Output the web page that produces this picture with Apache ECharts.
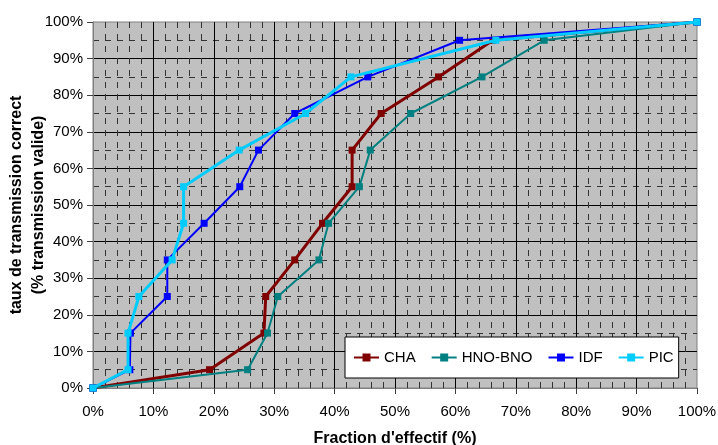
<!DOCTYPE html>
<html>
<head>
<meta charset="utf-8">
<script src="https://cdn.jsdelivr.net/npm/echarts@6/dist/echarts.min.js"></script>
<style>
html,body{margin:0;padding:0;background:#fff;}
#chart{width:718px;height:445px;}
</style>
</head>
<body>
<div id="chart"></div>
<script>
// transmission levels (y, %)
const yLevels = [0, 5, 15, 25, 35, 45, 55, 65, 75, 85, 95, 100];
// fraction d'effectif (x, %) per series
const chaX = [0, 19.3, 28.3, 28.6, 33.4, 38.0, 42.9, 42.9, 47.7, 57.2, 66.2, 100];
const hnoX = [0, 25.6, 28.9, 30.6, 37.4, 39.0, 44.1, 45.9, 52.6, 64.4, 74.7, 100];
const idfX = [0, 6.1, 6.2, 12.3, 12.3, 18.4, 24.3, 27.4, 33.4, 45.5, 60.7, 100];
const picX = [0, 5.8, 5.8, 7.6, 13.1, 15.0, 15.0, 24.2, 35.2, 42.7, 66.7, 100];
const seriesNames = ['CHA', 'HNO-BNO', 'IDF', 'PIC'];
const xTitle = "Fraction d'effectif (%)";
const yTitle = "taux de transmission correct\n(% transmission valide)";

const FONT = "'Liberation Sans', Arial, sans-serif";
function pairs(xs){ return xs.map((x,i)=>[x, yLevels[i]]); }

const colors = ['#800000', '#008080', '#0000FF', '#00CCFF'];
const widths = [3, 2, 2, 3];
const dataSets = [chaX, hnoX, idfX, picX];

const chart = echarts.init(document.getElementById('chart'), null, {renderer:'canvas'});

const axisCommon = {
  type: 'value', min: 0, max: 100, interval: 10,
  axisLine: {show: true, lineStyle: {color: '#808080', width: 1}},
  axisTick: {show: true, inside: false, length: 6, lineStyle: {color: '#404040'}},
  axisLabel: {formatter: '{value}%', color: '#000', fontFamily: FONT, fontSize: 15},
  splitLine: {show: true, showMinLine: false, showMaxLine: false, lineStyle: {color: '#000', width: 1}},
  nameTextStyle: {color: '#000', fontFamily: FONT, fontWeight: 'bold'}
};

chart.setOption({
  animation: false,
  textStyle: {fontFamily: FONT},
  grid: {
    left: 93, top: 22, right: 21, bottom: 57,
    show: true, backgroundColor: '#C0C0C0', borderColor: '#808080', borderWidth: 1,
    containLabel: false, outerBoundsMode: 'none'
  },
  xAxis: Object.assign({}, axisCommon, {
    name: xTitle, nameLocation: 'middle', nameGap: 43,
    nameTextStyle: {color: '#000', fontFamily: FONT, fontWeight: 'bold', fontSize: 16},
    axisLabel: Object.assign({}, axisCommon.axisLabel, {margin: 16}),
    minorTick: {show: false, splitNumber: 5},
    minorSplitLine: {show: true, lineStyle: {color: '#333', width: 1, type: [6, 6]}}
  }),
  yAxis: Object.assign({}, axisCommon, {
    name: yTitle, nameLocation: 'middle', nameGap: 43, nameRotate: 90,
    nameMoveOverlap: false,
    nameTextStyle: {color: '#000', fontFamily: FONT, fontWeight: 'bold', fontSize: 16, lineHeight: 22},
    axisLabel: Object.assign({}, axisCommon.axisLabel, {margin: 10}),
    minorTick: {show: false, splitNumber: 2},
    minorSplitLine: {show: true, lineStyle: {color: '#333', width: 1, type: [6, 6]}}
  }),
  legend: {
    left: 345, top: 337,
    padding: [13, 5, 13, 8],
    itemGap: 15, itemWidth: 25, itemHeight: 10,
    backgroundColor: '#fff', borderColor: '#000', borderWidth: 1,
    textStyle: {color: '#000', fontFamily: FONT, fontSize: 15},
    data: seriesNames
  },
  series: seriesNames.map((n, i) => ({
    name: n, type: 'line',
    data: pairs(dataSets[i]),
    symbol: 'rect', symbolSize: 7,
    showAllSymbol: true,
    color: colors[i],
    lineStyle: {color: colors[i], width: widths[i]},
    itemStyle: {color: colors[i]},
    z: 2 + i
  }))
});
</script>
</body>
</html>
